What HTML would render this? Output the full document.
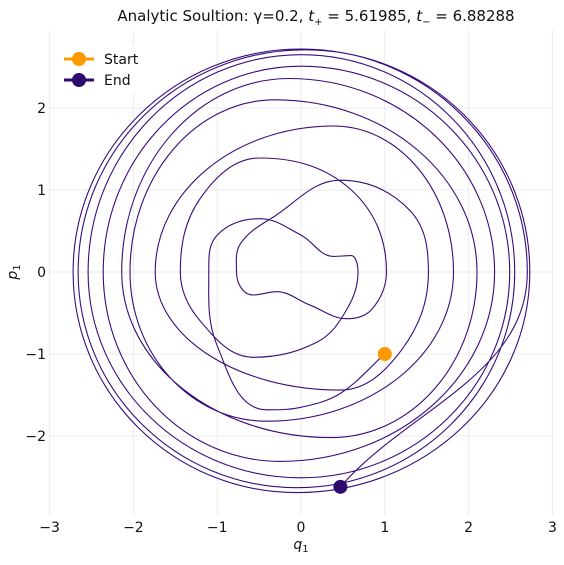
<!DOCTYPE html>
<html><head><meta charset="utf-8"><style>
html,body{margin:0;padding:0;background:#fff;}
svg text{font-family:"DejaVu Sans","Liberation Sans",sans-serif;}
</style></head><body>
<svg id="chart" width="564" height="560" viewBox="0 0 564 560" xmlns="http://www.w3.org/2000/svg">
<rect width="564" height="560" fill="#fff"/>
<g id="grid"></g>
<g id="curve"></g>
<g id="ticks"></g>
<text x="316" y="21" text-anchor="middle" font-size="15" fill="#111">Analytic Soultion: γ=0.2, <tspan font-style="italic">t</tspan><tspan font-size="10" dy="4">+</tspan><tspan dy="-4"> = 5.61985, </tspan><tspan font-style="italic">t</tspan><tspan font-size="10" dy="4">−</tspan><tspan dy="-4"> = 6.88288</tspan></text>
<text x="301" y="549" text-anchor="middle" font-size="14" font-style="italic" fill="#111">q<tspan font-size="10" dy="3" font-style="normal">1</tspan></text>
<text transform="translate(17,272) rotate(-90)" text-anchor="middle" font-size="14" font-style="italic" fill="#111">p<tspan font-size="10" dy="3" font-style="normal">1</tspan></text>
<g>
<rect x="56" y="45" width="90" height="48" fill="#fff"/>
<g>
<line x1="64" y1="59" x2="94" y2="59" stroke="#ff9900" stroke-width="3"/>
<circle cx="79" cy="59" r="7" fill="#ff9900"/>
<text x="104" y="64" font-size="14" fill="#111">Start</text></g>
<g>
<line x1="64" y1="80" x2="94" y2="80" stroke="#2e0a6e" stroke-width="3"/>
<circle cx="79" cy="80" r="7" fill="#2e0a6e"/>
<text x="104" y="85" font-size="14" fill="#111">End</text></g>
</g>
</svg>
<script>
const xTicks=[-3,-2,-1,0,1,2,3];
const yTicks=[-2,-1,0,1,2];
const tickLabels={"-3":"−3","-2":"−2","-1":"−1","0":"0","1":"1","2":"2","3":"3"};
const qVals=[1,0.47,0,-0.41,-1.0,-1.10,-1.0,-0.49,0.0,0.39,0.6,0.68,0.55,0.2,-0.57,-1.2,-1.44,-1.2,-0.49,0.6,1.02,0.85,0.55,0.1,-0.29,-0.57,-0.77,-0.72,-0.33,0.47,1.3,1.52,1.2,0.47,-1.74,0.39,1.82,-0.41,-2.04,-0.31,2.10,0.36,-2.14,-0.14,2.31,-0.25,-2.36,0,2.49,0,-2.54,0,2.55,-0.05,-2.66,0.05,2.73,-0.05,-2.72,0,2.70,0.47];
const pVals=[-1,-1.48,-1.65,-1.68,-0.9,0,0.45,0.65,0.45,0.19,0.2,0,-0.45,-0.85,-1.04,-0.6,0,0.9,1.39,1.0,0,-0.45,-0.57,-0.4,-0.24,-0.28,0,0.35,0.67,1.12,0.75,0,-0.95,-1.44,0,1.78,0,-1.82,0,2.10,0,-2.02,0,2.36,0,-2.31,0,2.51,0,-2.51,0,2.65,0,-2.63,0,2.71,0,-2.69,0,2.72,0,-2.62];
const X=q=>301+q*83.8, Y=p=>272-p*82;
const NS="http://www.w3.org/2000/svg";
const grid=document.getElementById('grid'), ticks=document.getElementById('ticks');
xTicks.forEach(t=>{
 const l=document.createElementNS(NS,'line');
 
 
 l.setAttribute('x1',X(t));l.setAttribute('x2',X(t));l.setAttribute('y1',30);l.setAttribute('y2',515);
 l.setAttribute('stroke','#ebebeb');l.setAttribute('stroke-width','1');grid.appendChild(l);
 const tx=document.createElementNS(NS,'text');
 
 
 tx.setAttribute('x',X(t));tx.setAttribute('y',532);tx.setAttribute('text-anchor','middle');
 tx.setAttribute('font-size','14');tx.setAttribute('fill','#111');tx.textContent=tickLabels[t];ticks.appendChild(tx);
});
yTicks.forEach(t=>{
 const l=document.createElementNS(NS,'line');
 
 
 l.setAttribute('x1',49);l.setAttribute('x2',552);l.setAttribute('y1',Y(t));l.setAttribute('y2',Y(t));
 l.setAttribute('stroke','#ebebeb');l.setAttribute('stroke-width','1');grid.appendChild(l);
 const tx=document.createElementNS(NS,'text');
 
 
 tx.setAttribute('x',46);tx.setAttribute('y',Y(t)+5);tx.setAttribute('text-anchor','end');
 tx.setAttribute('font-size','14');tx.setAttribute('fill','#111');tx.textContent=tickLabels[t];ticks.appendChild(tx);
});
const pts=qVals.map((q,i)=>[X(q),Y(pVals[i])]);
const N=pts.length;
function tan(i){
 const a=pts[Math.max(0,i-1)], b=pts[Math.min(N-1,i+1)], P=pts[i];
 let dx=b[0]-a[0], dy=b[1]-a[1]; const m=Math.hypot(dx,dy)||1; dx/=m; dy/=m;
 if(i>0&&i<N-1){
  const xExt=(P[0]-a[0])*(P[0]-b[0])>0, yExt=(P[1]-a[1])*(P[1]-b[1])>0;
  if(xExt&&!yExt){ return {d:[0,Math.sign(b[1]-a[1])||1],ext:true}; }
  if(yExt&&!xExt){ return {d:[Math.sign(b[0]-a[0])||1,0],ext:true}; }
 }
 return {d:[dx,dy],ext:false};
}
const T=pts.map((_,i)=>tan(i));
let d='M'+pts[0][0].toFixed(1)+','+pts[0][1].toFixed(1);
for(let i=0;i<N-1;i++){
 const p1=pts[i],p2=pts[i+1];
 const vx=p2[0]-p1[0], vy=p2[1]-p1[1], ch=Math.hypot(vx,vy);
 const a=T[i],b=T[i+1];
 let k1,k2;
 const perp=Math.abs(a.d[0]*b.d[0]+a.d[1]*b.d[1])<0.01;
 if(a.ext&&b.ext&&perp){
  k1=0.552*Math.abs(vx*a.d[0]+vy*a.d[1]);
  k2=0.552*Math.abs(vx*b.d[0]+vy*b.d[1]);
 } else {k1=k2=ch*0.36;}
 const c1=[p1[0]+a.d[0]*k1,p1[1]+a.d[1]*k1], c2=[p2[0]-b.d[0]*k2,p2[1]-b.d[1]*k2];
 d+=' C'+c1[0].toFixed(1)+','+c1[1].toFixed(1)+' '+c2[0].toFixed(1)+','+c2[1].toFixed(1)+' '+p2[0].toFixed(1)+','+p2[1].toFixed(1);
}
const cg=document.getElementById('curve');
const path=document.createElementNS(NS,'path');


path.setAttribute('d',d);path.setAttribute('fill','none');path.setAttribute('stroke','#3a0c7a');path.setAttribute('stroke-width','1.1');path.setAttribute('stroke-linejoin','round');
cg.appendChild(path);
const s=document.createElementNS(NS,'circle');


s.setAttribute('cx',pts[0][0]);s.setAttribute('cy',pts[0][1]);s.setAttribute('r',7);s.setAttribute('fill','#ff9900');cg.appendChild(s);
const e=document.createElementNS(NS,'circle');


const last=pts[N-1];
e.setAttribute('cx',last[0]);e.setAttribute('cy',last[1]);e.setAttribute('r',7);e.setAttribute('fill','#2e0a6e');cg.appendChild(e);
</script>
</body></html>
